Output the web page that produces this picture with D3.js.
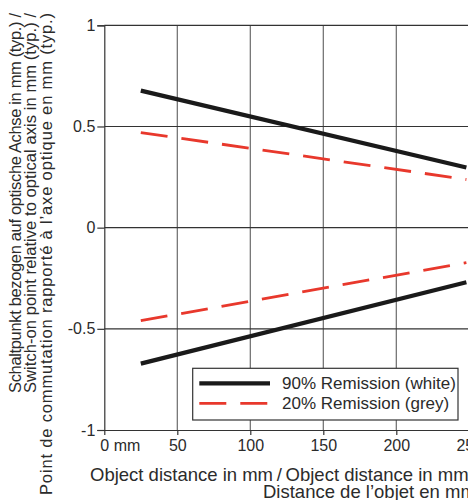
<!DOCTYPE html>
<html><head><meta charset="utf-8">
<script src="https://cdn.jsdelivr.net/npm/d3@7"></script>
<style>
html,body{margin:0;padding:0;background:#fff;}
svg{display:block;font-family:"Liberation Sans",Arial,sans-serif;}
</style></head>
<body>
<svg id="chart" width="468" height="500"></svg>
<script>
// ---- data ----
const distances = [25, 248];
const white90Upper = [0.677, 0.297];
const grey20Upper = [0.47, 0.238];
const white90Lower = [-0.672, -0.27];
const grey20Lower = [-0.46, -0.173];
const xTicks = [0, 50, 100, 150, 200, 250];
const yTicks = [-1, -0.5, 0, 0.5, 1];
const yTickLabels = ["-1", "-0.5", "0", "0.5", "1"];
const legendLabels = ["90% Remission (white)", "20% Remission (grey)"];
const yTitleLines = [
  "Schaltpunkt bezogen auf optische Achse in mm (typ.) /",
  "Switch-on point relative to optical axis in mm (typ.) /",
  "Point de commutation rapporté à l’axe optique en mm (typ.)"
];
const xTitleLines = [
  "Object distance in mm\u2009/\u2009Object distance in mm /",
  "Distance de l’objet en mm"
];

const svg = d3.select("#chart");
const x = d3.scaleLinear().domain([0, 250]).range([104.3, 469.3]);
const y = d3.scaleLinear().domain([-1, 1]).range([430, 25.3]);
const textCol = "#2b2b2b";

// vertical gridlines
svg.append("g").selectAll("line").data(xTicks.filter(d => d > 0 && d < 250)).join("line")
  .attr("x1", d => x(d)).attr("x2", d => x(d))
  .attr("y1", y(1)).attr("y2", y(-1))
  .attr("stroke", "#6a6a6a").attr("stroke-width", 1.2);

// horizontal gridlines (incl. top border)
svg.append("g").selectAll("line").data(yTicks.filter(d => d > -1)).join("line")
  .attr("x1", x(0)).attr("x2", 468)
  .attr("y1", d => y(d)).attr("y2", d => y(d))
  .attr("stroke", "#333").attr("stroke-width", 1.2);

// y axis
const yAxis = d3.axisLeft(y).tickValues(yTicks).tickSize(7).tickPadding(2)
  .tickFormat((d, i) => yTickLabels[i]);
const gy = svg.append("g").attr("transform", `translate(${x(0)},0)`).call(yAxis);
gy.select(".domain").attr("stroke", "#333").attr("stroke-width", 1.2);
gy.selectAll(".tick line").attr("stroke", "#333").attr("stroke-width", 1.2);
gy.selectAll(".tick text").attr("font-size", 16).attr("fill", textCol)
  .attr("font-family", "Liberation Sans, Arial, sans-serif");

// x axis
const xAxis = d3.axisBottom(x).tickValues(xTicks).tickSizeInner(5).tickSizeOuter(0).tickPadding(5)
  .tickFormat(d => d === 0 ? "0 mm" : String(d));
const gx = svg.append("g").attr("transform", `translate(0,${y(-1)})`).call(xAxis);
gx.select(".domain").attr("stroke", "#333").attr("stroke-width", 1.2);
gx.selectAll(".tick line").attr("stroke", "#333").attr("stroke-width", 1.2);
gx.selectAll(".tick text").attr("font-size", 16).attr("fill", textCol)
  .attr("font-family", "Liberation Sans, Arial, sans-serif");
gx.selectAll(".tick text").filter(d => d === 0).attr("text-anchor", "start").attr("x", -4.5);

// series lines
const line = d3.line().x(d => x(d[0])).y(d => y(d[1]));
const series = [
  {vals: grey20Upper, color: "#e8382c", w: 2.8, dash: "27,14"},
  {vals: grey20Lower, color: "#e8382c", w: 2.8, dash: "27,14"},
  {vals: white90Upper, color: "#1a1a1a", w: 4.2, dash: null},
  {vals: white90Lower, color: "#1a1a1a", w: 4.2, dash: null}
];
series.forEach(s => {
  svg.append("path").datum(distances.map((d, i) => [d, s.vals[i]]))
    .attr("d", line).attr("fill", "none")
    .attr("stroke", s.color).attr("stroke-width", s.w)
    .attr("stroke-dasharray", s.dash);
});

// legend
const lg = svg.append("g");
lg.append("rect").attr("x", 192.7).attr("y", 368.3).attr("width", 265.3).attr("height", 51.7)
  .attr("fill", "#fff").attr("stroke", "#333").attr("stroke-width", 1.2);
const legendStyles = [
  {color: "#1a1a1a", w: 4.2, dash: null},
  {color: "#e8382c", w: 2.8, dash: "27,14"}
];
legendLabels.forEach((lab, i) => {
  const cy = 383.3 + i * 20;
  lg.append("line").attr("x1", 199.3).attr("x2", 270).attr("y1", cy).attr("y2", cy)
    .attr("stroke", legendStyles[i].color).attr("stroke-width", legendStyles[i].w)
    .attr("stroke-dasharray", legendStyles[i].dash);
  lg.append("text").attr("x", 282).attr("y", cy).attr("dy", "0.35em")
    .attr("font-size", 17).attr("fill", textCol).text(lab);
});

// y title
const yTitleLengths = [380, 380, 482];
const yt = svg.append("g");
yTitleLines.forEach((t, i) => {
  yt.append("text")
    .attr("transform", `translate(${20.5 + i * 15.5},13) rotate(-90)`)
    .attr("text-anchor", "end").attr("font-size", 16.5).attr("fill", textCol)
    .attr("textLength", yTitleLengths[i]).attr("lengthAdjust", "spacing")
    .text(t);
});

// x title
svg.append("text").attr("x", 90).attr("y", 481).attr("font-size", 18.5).attr("fill", textCol).text(xTitleLines[0]);
svg.append("text").attr("x", 263).attr("y", 498).attr("font-size", 18.5).attr("fill", textCol).text(xTitleLines[1]);
</script>
</body></html>
